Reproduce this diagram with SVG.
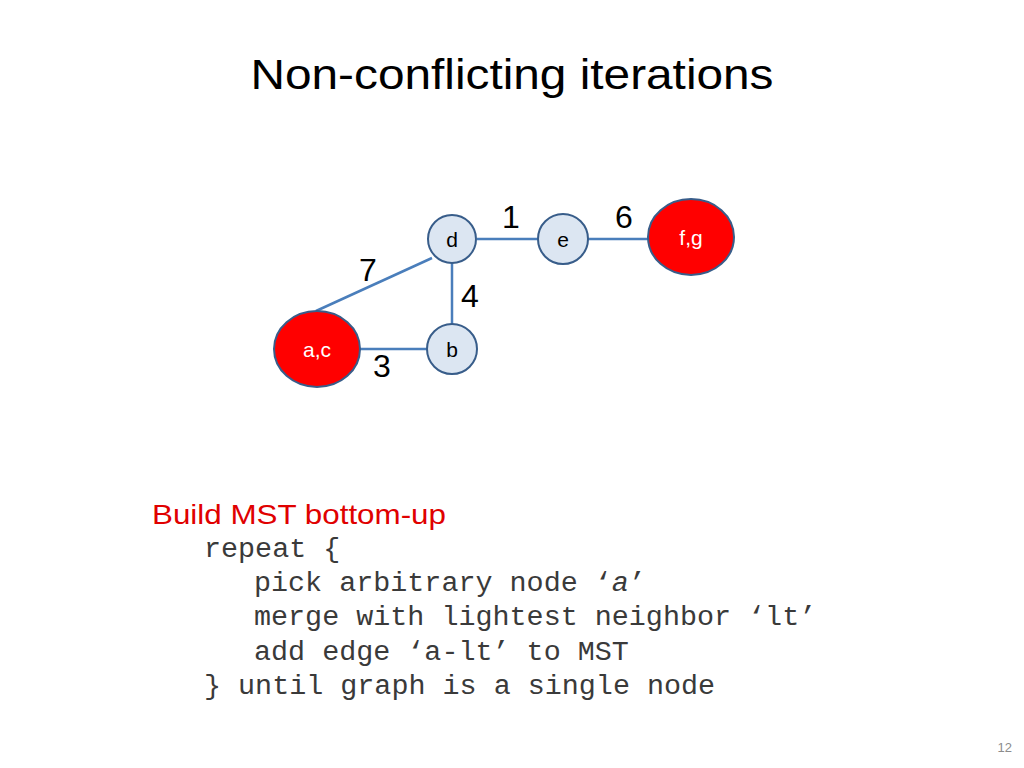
<svg xmlns="http://www.w3.org/2000/svg" width="1024" height="768" viewBox="0 0 1024 768">
<style>
.edge{stroke:#4A7EBB;stroke-width:2.5;fill:none}
.node{fill:#DCE6F2;stroke:#385D8A;stroke-width:2}
.red{fill:#FF0000;stroke:#385D8A;stroke-width:2}
.nl{font-family:"Liberation Sans",Arial,sans-serif;font-size:21px;fill:#000;text-anchor:middle}
.wl{font-family:"Liberation Sans",Arial,sans-serif;font-size:21px;fill:#fff;text-anchor:middle}
.w{font-family:"Liberation Sans",Arial,sans-serif;font-size:32px;fill:#000;text-anchor:middle}
.code{font-family:"Liberation Mono","Courier New",monospace;font-size:28.4px;fill:#3a3a3a}
</style>
<rect width="1024" height="768" fill="#fff"/>
<text x="512" y="89" font-family="Liberation Sans,Arial,sans-serif" font-size="42" text-anchor="middle" textLength="523" lengthAdjust="spacingAndGlyphs">Non-conflicting iterations</text>
<g id="connectors">
<line class="edge" x1="477" y1="239" x2="538" y2="239"/>
<line class="edge" x1="588" y1="239" x2="648" y2="239"/>
<line class="edge" x1="452" y1="263" x2="452" y2="324"/>
<line class="edge" x1="360" y1="349" x2="427" y2="349"/>
<line class="edge" x1="432" y1="258" x2="316" y2="311"/>
<text class="w" x="511" y="228">1</text>
<text class="w" x="624" y="228">6</text>
<text class="w" x="368" y="281">7</text>
<text class="w" x="470" y="307">4</text>
<text class="w" x="382" y="377">3</text>
</g>
<g id="node-d"><circle class="node" cx="452" cy="239" r="24"/><text class="nl" x="452" y="247">d</text></g>
<g id="node-e"><circle class="node" cx="563" cy="239" r="25"/><text class="nl" x="563" y="247">e</text></g>
<g id="node-b"><circle class="node" cx="452" cy="349" r="25"/><text class="nl" x="452" y="357">b</text></g>
<g id="node-fg"><ellipse class="red" cx="691" cy="237" rx="43" ry="38"/><text class="wl" x="691" y="245">f,g</text></g>
<g id="node-ac"><ellipse class="red" cx="317" cy="349" rx="43" ry="38"/><text class="wl" x="317" y="357">a,c</text></g>
<text x="152" y="524" font-family="Liberation Sans,Arial,sans-serif" font-size="28" fill="#E00000" textLength="294" lengthAdjust="spacingAndGlyphs">Build MST bottom-up</text>
<text class="code" x="204" y="557">repeat {</text>
<text class="code" x="254" y="591">pick arbitrary node ‘<tspan font-style="italic">a</tspan>’</text>
<text class="code" x="254" y="625">merge with lightest neighbor ‘lt’</text>
<text class="code" x="254" y="660">add edge ‘a-lt’ to MST</text>
<text class="code" x="204" y="694">} until graph is a single node</text>
<text x="1012" y="752" font-family="Liberation Sans,Arial,sans-serif" font-size="13" fill="#8C8C8C" text-anchor="end">12</text>
</svg>
